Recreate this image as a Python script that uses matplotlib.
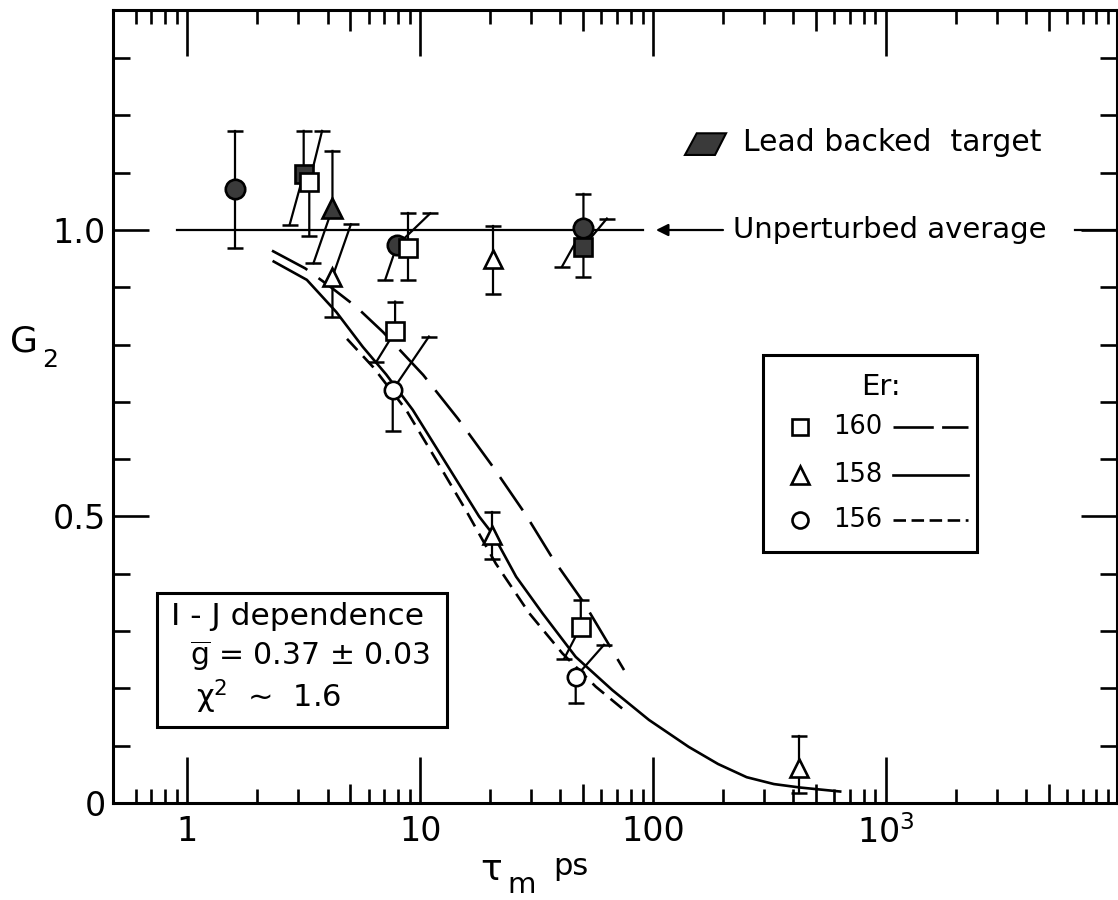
import matplotlib.pyplot as plt
from matplotlib.patches import Rectangle, Polygon
from matplotlib.ticker import FixedLocator, FuncFormatter

plt.rcParams['font.family'] = ['DejaVu Sans']
plt.rcParams['mathtext.fontset'] = 'dejavusans'
plt.rcParams['mathtext.default'] = 'regular'
plt.rcParams['lines.scale_dashes'] = False

# theory curves, tau_m (ps) vs G2
er160_x = [2.31, 3.21, 4.11, 5.31, 6.92, 10.3, 14.5, 20.5, 28.4, 37.0, 50.5, 75.0]
er160_y = [0.964, 0.933, 0.901, 0.866, 0.822, 0.747, 0.671, 0.587, 0.503, 0.427, 0.349, 0.232]
er158_x = [2.35, 3.26, 4.36, 5.67, 7.14, 9.29, 12.9, 17.9, 20.6, 25.8, 33.5, 46.5, 66.8, 95.9,
           142, 190, 252, 330, 427, 635]
er158_y = [0.945, 0.913, 0.857, 0.796, 0.748, 0.686, 0.593, 0.500, 0.468, 0.395, 0.331, 0.255,
           0.197, 0.145, 0.098, 0.068, 0.045, 0.033, 0.027, 0.020]
er156_x = [4.85, 6.27, 8.7, 11.7, 15.7, 21.1, 29.4, 40.8, 56.7, 73.6]
er156_y = [0.810, 0.761, 0.686, 0.599, 0.511, 0.418, 0.331, 0.261, 0.203, 0.165]

unperturbed = 1.0

# measured points: x, y, lower/upper error end, and x where each error cap was drawn
sq160_x = [3.34, 8.83, 7.8, 48.9]
sq160_y = [1.083, 0.968, 0.823, 0.308]
sq160_lo = [0.990, 0.913, 0.770, 0.252]
sq160_hi = [1.173, 1.029, 0.875, 0.354]
sq160_xlo = [3.34, 8.83, 6.48, 41.5]
sq160_xhi = [3.79, 8.83, 7.8, 48.9]

tri158_x = [4.2, 20.5, 20.4, 424]
tri158_y = [0.918, 0.950, 0.468, 0.0605]
tri158_lo = [0.848, 0.888, 0.425, 0.017]
tri158_hi = [1.010, 1.007, 0.507, 0.117]
tri158_xlo = [4.2, 20.5, 20.4, 424]
tri158_xhi = [5.04, 20.5, 20.4, 424]

circ156_x = [7.62, 46.5]
circ156_y = [0.721, 0.220]
circ156_lo = [0.650, 0.174]
circ156_hi = [0.814, 0.276]
circ156_xlo = [7.62, 46.5]
circ156_xhi = [10.9, 61.5]

# lead backed target (filled)
pb_circ_x = [1.61, 7.94, 50.2]
pb_circ_y = [1.072, 0.973, 1.003]
pb_circ_lo = [0.969, 0.913, 0.936]
pb_circ_hi = [1.172, 1.029, 1.063]
pb_circ_xlo = [1.61, 7.07, 40.6]
pb_circ_xhi = [1.61, 11.04, 50.2]

pb_sq_x = [3.16, 50.2]
pb_sq_y = [1.098, 0.971]
pb_sq_lo = [1.009, 0.918]
pb_sq_hi = [1.173, 1.020]
pb_sq_xlo = [2.75, 50.2]
pb_sq_xhi = [3.16, 63.3]

pb_tri_x = [4.2]
pb_tri_y = [1.038]
pb_tri_lo = [0.942]
pb_tri_hi = [1.138]
pb_tri_xlo = [3.48]
pb_tri_xhi = [4.2]

fig = plt.figure(figsize=(11.18, 9), dpi=100)
ax = fig.add_axes([0.1011, 0.1078, 0.898, 0.8811])
ax.set_xscale('log')
ax.set_xlim(0.48, 9800)
ax.set_ylim(0, 1.384)

lw_curve = 1.9
ax.plot(er160_x, er160_y, color='k', lw=lw_curve, dashes=(29, 10))
ax.plot(er158_x, er158_y, color='k', lw=lw_curve)
ax.plot(er156_x, er156_y, color='k', lw=lw_curve, dashes=(11, 6))

ax.plot([0.9, 90], [unperturbed, unperturbed], color='k', lw=1.6)
ax.plot([6470, 9800], [unperturbed, unperturbed], color='k', lw=1.6)
ax.annotate('', xy=(100, unperturbed), xytext=(205, unperturbed),
            arrowprops=dict(arrowstyle='-|>', color='k', lw=1.6, mutation_scale=18))
ax.text(220, unperturbed, 'Unperturbed average', fontsize=21, va='center', ha='left')


def draw_points(xs, ys, lo, hi, xlo, xhi, marker, ms, face):
    for x, y, l, h, xl, xh in zip(xs, ys, lo, hi, xlo, xhi):
        ax.plot([xl, x, xh], [l, y, h], color='k', lw=1.6, zorder=3)
        ax.plot([xl, xh], [l, h], ls='none', marker='_', ms=12, mew=1.8, color='k', zorder=3)
    ax.plot(xs, ys, ls='none', marker=marker, ms=ms, mfc=face, mec='k', mew=1.9, zorder=4)


lead = '#3a3a3a'
draw_points(pb_circ_x, pb_circ_y, pb_circ_lo, pb_circ_hi, pb_circ_xlo, pb_circ_xhi, 'o', 14, lead)
draw_points(pb_sq_x, pb_sq_y, pb_sq_lo, pb_sq_hi, pb_sq_xlo, pb_sq_xhi, 's', 13, lead)
draw_points(pb_tri_x, pb_tri_y, pb_tri_lo, pb_tri_hi, pb_tri_xlo, pb_tri_xhi, '^', 14, lead)
draw_points(sq160_x, sq160_y, sq160_lo, sq160_hi, sq160_xlo, sq160_xhi, 's', 13, 'white')
draw_points(tri158_x, tri158_y, tri158_lo, tri158_hi, tri158_xlo, tri158_xhi, '^', 13.5, 'white')
draw_points(circ156_x, circ156_y, circ156_lo, circ156_hi, circ156_xlo, circ156_xhi, 'o', 12.5, 'white')

# lead backed target key
ax.add_patch(Polygon([(0.5697, 0.8172), (0.5814, 0.8445), (0.6106, 0.8445), (0.5996, 0.8172)],
                     closed=True, transform=ax.transAxes, facecolor=lead, edgecolor='k', lw=1.5))
ax.text(0.6275, 0.8335, 'Lead backed  target', transform=ax.transAxes, fontsize=21.5, va='center')

# Er key box
ax.add_patch(Rectangle((0.647, 0.316), 0.214, 0.249, transform=ax.transAxes,
                       fill=False, edgecolor='k', lw=2.2))
ax.text(0.765, 0.525, 'Er:', transform=ax.transAxes, fontsize=21, ha='center', va='center')
rows = [(0.4745, 's', 12, '160', (29, 6)),
        (0.4136, '^', 13, '158', None),
        (0.357, 'o', 11.5, '156', (9, 4))]
for ry, mk, ms, lab, dash in rows:
    ax.plot([0.684], [ry], marker=mk, ms=ms, mfc='white', mec='k', mew=1.9, transform=ax.transAxes)
    ax.text(0.717, ry, lab, transform=ax.transAxes, fontsize=18.5, va='center')
    if dash:
        ax.plot([0.777, 0.852], [ry, ry], color='k', lw=lw_curve, dashes=dash, transform=ax.transAxes)
    else:
        ax.plot([0.777, 0.852], [ry, ry], color='k', lw=lw_curve, transform=ax.transAxes)

# fit result box
ax.add_patch(Rectangle((0.0434, 0.0962), 0.2897, 0.1688, transform=ax.transAxes,
                       fill=False, edgecolor='k', lw=2.2))
ax.text(0.0578, 0.235, 'I - J dependence', transform=ax.transAxes, fontsize=22.5, va='center')
ax.text(0.0767, 0.1845, r'$\overline{g}$ = 0.37 $\pm$ 0.03', transform=ax.transAxes, fontsize=21.5, va='center')
ax.text(0.0824, 0.134, r'χ$^2$  ~  1.6', transform=ax.transAxes, fontsize=22, va='center')

# axes and ticks
for s in ax.spines.values():
    s.set_linewidth(2.2)

majors = [1, 5, 10, 50, 100, 500, 1000, 5000]
minors = [m * 10.0 ** k for k in range(-1, 4) for m in (2, 3, 4, 6, 7, 8, 9) if 0.5 < m * 10.0 ** k < 9800]
xlabels = {1: '1', 10: '10', 100: '100', 1000: '$10^3$'}
ax.xaxis.set_major_locator(FixedLocator(majors))
ax.xaxis.set_minor_locator(FixedLocator(minors))
ax.xaxis.set_major_formatter(FuncFormatter(lambda v, p: xlabels.get(int(round(v)), '')))
ax.xaxis.set_minor_formatter(FuncFormatter(lambda v, p: ''))
ax.tick_params(axis='x', which='major', direction='in', top=True, length=33, width=1.9,
               labelsize=24, pad=9)
ax.tick_params(axis='x', which='minor', direction='in', top=True, length=10, width=1.9)
for t, loc in zip(ax.xaxis.get_major_ticks(), majors):
    if loc in (5, 50, 500, 5000):
        t.tick1line.set_markersize(14)
        t.tick2line.set_markersize(15)

ax.yaxis.set_major_locator(FixedLocator([0, 0.5, 1.0]))
ax.yaxis.set_minor_locator(FixedLocator([0.1, 0.2, 0.3, 0.4, 0.6, 0.7, 0.8, 0.9, 1.1, 1.2, 1.3]))
ax.yaxis.set_major_formatter(FuncFormatter(lambda v, p: {0: '0', 0.5: '0.5', 1.0: '1.0'}[round(v, 1)]))
ax.tick_params(axis='y', which='major', direction='in', right=True, length=26, width=1.9,
               labelsize=24, pad=5)
ax.tick_params(axis='y', which='minor', direction='in', right=True, length=12, width=1.9)

fig.text(24 / 1118, 1 - 341 / 900, 'G', fontsize=26, ha='center', va='center')
fig.text(50 / 1118, 1 - 360 / 900, '2', fontsize=18, ha='center', va='center')
fig.text(491 / 1118, 1 - 880 / 900, r'$\tau$', fontsize=26, ha='center', va='baseline')
fig.text(522 / 1118, 1 - 893 / 900, 'm', fontsize=21, ha='center', va='baseline')
fig.text(553 / 1118, 1 - 875 / 900, 'ps', fontsize=22, ha='left', va='baseline')

fig.savefig('out.png', dpi=100)
